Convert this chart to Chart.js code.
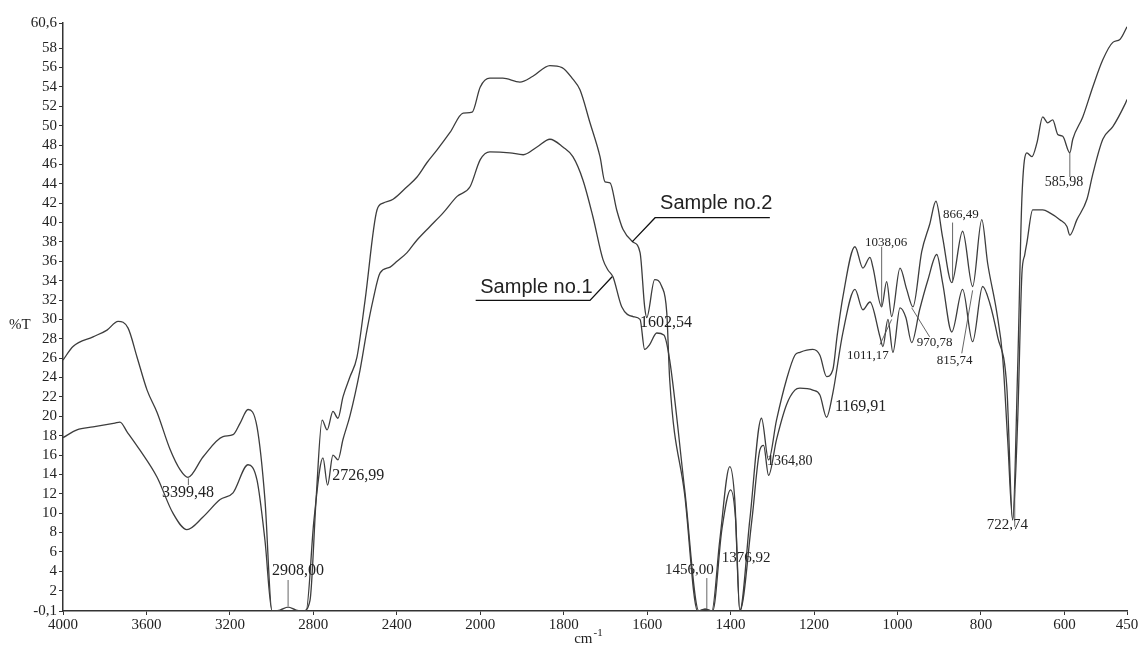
<!DOCTYPE html>
<html><head><meta charset="utf-8">
<script src="https://cdn.jsdelivr.net/npm/chart.js@4.4.1/dist/chart.umd.min.js"></script>
<style>html,body{margin:0;padding:0;background:#fff}canvas{display:block}</style>
</head><body>
<canvas id="c" width="1143" height="646"></canvas>
<script>
// ---- data (wavenumber cm-1, %T) ----
const wnSample2 = [4000,3952,3856,3789,3736,3688,3645,3597,3549,3487,3439,3401,3329,3233,3185,3151,3113,3070,3032,2998,2960,2921,2883,2849,2816,2787,2758,2734,2706,2682,2658,2624,2591,2552,2495,2466,2418,2351,2303,2255,2207,2145,2082,2039,2000,1977,1946,1905,1874,1833,1804,1778,1761,1737,1713,1701,1689,1673,1658,1634,1617,1606,1601,1582,1565,1553,1546,1510,1479,1462,1445,1426,1402,1390,1378,1354,1326,1309,1290,1266,1246,1234,1203,1186,1170,1155,1145,1131,1102,1083,1066,1059,1038,1026,1014,994,978,963,942,923,908,892,870,844,820,798,784,762,748,736,724,712,702,690,678,666,652,640,628,616,604,587,580,556,532,508,484,467,450];
const tSample2 = [25.8,27.2,28.2,28.9,29.8,29.1,26.1,22.7,20.4,16.6,14.5,13.7,15.8,17.9,18.1,19.3,20.7,18.9,11.4,-0.1,0.0,0.3,0.0,-0.1,1.0,11.4,19.6,18.6,20.5,19.8,22.0,24.1,26.1,32.0,41.3,42.0,42.4,43.7,44.7,46.2,47.5,49.3,51.3,51.4,54.0,54.9,54.9,54.5,55.1,56.2,56.0,54.8,53.7,50.3,46.8,44.2,44.1,41.3,39.3,38.0,36.9,31.3,30.2,34.1,33.4,30.7,23.8,11.9,-0.1,0.1,-0.1,7.2,14.8,11.4,-0.1,9.3,19.8,15.5,19.6,23.8,26.3,26.6,26.9,26.3,24.1,24.8,28.2,32.3,37.5,35.3,36.4,35.4,31.3,33.9,30.3,35.3,33.1,31.3,37.0,39.8,42.2,38.5,33.8,39.1,33.4,40.3,35.8,30.7,26.1,17.6,9.3,25.0,42.4,47.2,46.8,48.2,50.9,50.3,50.6,49.1,48.9,47.2,48.6,50.9,54.0,56.8,58.6,58.9,60.2];
const wnSample1 = [4000,3933,3856,3751,3727,3693,3631,3549,3473,3406,3329,3247,3185,3113,3070,3032,2998,2930,2864,2835,2797,2754,2732,2706,2682,2658,2624,2576,2543,2514,2480,2432,2399,2351,2303,2241,2178,2111,2049,2000,1977,1929,1897,1864,1833,1802,1778,1754,1730,1706,1694,1682,1661,1634,1617,1606,1594,1577,1560,1546,1510,1476,1460,1443,1421,1400,1388,1378,1349,1330,1321,1309,1290,1266,1246,1234,1203,1186,1170,1155,1131,1102,1083,1066,1042,1035,1023,1011,994,980,966,947,927,906,892,870,844,820,796,779,760,738,724,712,702,695,690,676,652,635,611,594,587,570,546,532,508,484,455,450];
const tSample1 = [17.8,18.6,18.9,19.3,19.4,18.4,16.5,13.7,10.0,8.3,9.6,11.4,12.1,15.0,13.4,7.2,-0.1,-0.1,-0.1,-0.1,9.3,15.7,12.9,16.0,15.5,17.6,20.1,24.8,28.9,32.0,34.8,35.4,36.0,36.9,38.2,39.6,41.0,42.7,43.7,46.5,47.3,47.2,47.0,47.8,48.6,47.8,46.8,44.4,40.6,36.2,35.1,34.4,31.3,30.3,30.0,26.9,27.4,28.6,28.4,25.8,12.4,-0.1,0.1,-0.1,8.3,12.4,9.3,-0.1,9.3,16.5,17.0,13.9,17.6,21.2,22.7,22.9,22.7,22.2,19.9,22.4,28.6,33.1,31.0,31.8,28.2,27.2,30.0,26.6,31.2,30.2,27.6,31.0,34.1,36.7,33.8,28.7,33.1,27.7,33.4,31.7,28.2,23.0,9.3,19.6,34.6,36.7,37.9,41.3,41.3,41.0,40.3,39.6,38.7,40.3,42.4,45.0,48.6,49.9,52.2,52.7];

const xTickLabels = [4000,3600,3200,2800,2400,2000,1800,1600,1400,1200,1000,800,600,450];
const yTickValues = [-0.1,2,4,6,8,10,12,14,16,18,20,22,24,26,28,30,32,34,36,38,40,42,44,46,48,50,52,54,56,58,60.6];

// peak labels: text, left-edge wavenumber, %T of text middle, font size
const peakText = ["3399,48","2908,00","2726,99","1602,54","1456,00","1376,92","1364,80","1169,91","1038,06","1011,17","970,78","866,49","815,74","722,74","585,98"];
const peakWn   = [3525,2998,2710,1617,1557,1421,1313,1150,1078,1121,954,891,906,786,647];
const peakT    = [12.1,4.1,13.9,29.7,4.1,5.4,15.3,21.0,37.9,26.3,27.6,40.8,25.8,8.8,44.2];
const peakSize = [16,16,16,16,15,15,14,16,13,13,13,13,13,15,14];
// marker lines: [wnA, TA, wnB, TB]
const peakLines = [[3399,13.6,3399,12.9],[2921,3.1,2921,0.4],[1457,3.3,1457,0.1],[1038,37.5,1038,31.3],[1042,27.4,1014,30.0],[966,31.2,923,28.2],[868,40.0,868,33.8],[846,26.5,820,33.0],[719,12.4,719,8.6],[587,47.2,587,44.7]];
// sample captions: text, left wn, baseline T, leader polyline
const sampleText = ["Sample no.2","Sample no.1"];
const sampleWn = [1569,2000];
const sampleT = [41.4,32.75];
const sampleLeader = [[[1306,40.5],[1581,40.5],[1636,38.0]],[[2022,31.96],[1737,31.96],[1684,34.4]]];

// x axis: 2x expansion below 2000 cm-1
const u = w => (w <= 2000 ? w : 2000 + (w - 2000) / 2);

const serif = '"Liberation Serif", "Times New Roman", serif';
const ink = '#222';
const lineCol = '#3d3d3d';

const annot = {
  id: 'annot',
  afterDraw(chart) {
    const {ctx, scales: {x, y}, chartArea} = chart;
    const px = w => x.getPixelForValue(u(w));
    const py = t => y.getPixelForValue(t);
    ctx.save();
    ctx.fillStyle = ink;
    ctx.textBaseline = 'middle';
    ctx.textAlign = 'left';
    peakText.forEach((s, i) => {
      ctx.font = peakSize[i] + 'px ' + serif;
      ctx.fillText(s, px(peakWn[i]), py(peakT[i]));
    });
    ctx.strokeStyle = '#555';
    ctx.lineWidth = 0.9;
    peakLines.forEach(l => {
      ctx.beginPath();
      ctx.moveTo(px(l[0]), py(l[1]));
      ctx.lineTo(px(l[2]), py(l[3]));
      ctx.stroke();
    });
    ctx.textBaseline = 'alphabetic';
    ctx.font = '20px "Liberation Sans", Arial, sans-serif';
    ctx.strokeStyle = '#111';
    ctx.lineWidth = 1.3;
    sampleText.forEach((s, i) => {
      ctx.fillText(s, px(sampleWn[i]), py(sampleT[i]));
      const pts = sampleLeader[i];
      ctx.beginPath();
      pts.forEach((p, k) => k ? ctx.lineTo(px(p[0]), py(p[1])) : ctx.moveTo(px(p[0]), py(p[1])));
      ctx.stroke();
    });
    // axis titles
    ctx.font = '15px ' + serif;
    ctx.textBaseline = 'middle';
    ctx.fillText('%T', 9, py(29.4));
    ctx.textBaseline = 'alphabetic';
    const cx = px(1775);
    ctx.font = '15px ' + serif;
    ctx.fillText('cm', cx, chartArea.bottom + 32);
    const w = ctx.measureText('cm').width;
    ctx.font = '11px ' + serif;
    ctx.fillText('-1', cx + w + 1, chartArea.bottom + 25);
    ctx.restore();
  }
};

const mk = (wn, t) => wn.map((w, i) => ({x: u(w), y: t[i]}));

new Chart(document.getElementById('c'), {
  type: 'line',
  data: {
    datasets: [
      {label: 'Sample no.2', data: mk(wnSample2, tSample2), borderColor: lineCol, borderWidth: 1.3, pointRadius: 0, cubicInterpolationMode: 'monotone', fill: false},
      {label: 'Sample no.1', data: mk(wnSample1, tSample1), borderColor: lineCol, borderWidth: 1.3, pointRadius: 0, cubicInterpolationMode: 'monotone', fill: false}
    ]
  },
  options: {
    responsive: false,
    devicePixelRatio: 1,
    animation: false,
    layout: {padding: {top: 23, right: 16, left: 0, bottom: 0}},
    plugins: {legend: {display: false}, tooltip: {enabled: false}},
    scales: {
      x: {
        type: 'linear', reverse: true, min: u(450), max: u(4000),
        afterBuildTicks: s => { s.ticks = xTickLabels.map(v => ({value: u(v)})); },
        afterFit: s => { s.height = 35; },
        ticks: {autoSkip: false, maxRotation: 0, padding: 1, color: ink, font: {family: serif, size: 15},
          callback: (v, i) => String(xTickLabels[i])},
        grid: {drawOnChartArea: false, drawTicks: true, tickLength: 4, color: '#333', lineWidth: 1},
        border: {display: true, color: '#333', width: 1.5}
      },
      y: {
        min: -0.1, max: 60.6,
        afterBuildTicks: s => { s.ticks = yTickValues.map(v => ({value: v})); },
        afterFit: s => { s.width = 63; },
        ticks: {autoSkip: false, padding: 2, color: ink, font: {family: serif, size: 15},
          callback: v => String(v).replace('.', ',')},
        grid: {drawOnChartArea: false, drawTicks: true, tickLength: 4, color: '#333', lineWidth: 1},
        border: {display: true, color: '#333', width: 1.5}
      }
    }
  },
  plugins: [annot]
});
</script>
</body></html>
